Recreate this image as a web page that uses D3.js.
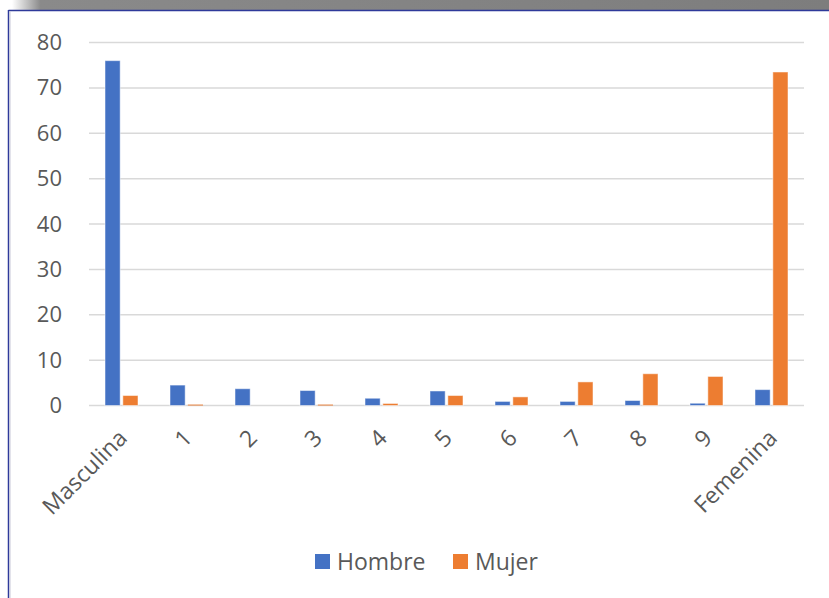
<!DOCTYPE html>
<html>
<head>
<meta charset="utf-8">
<script src="https://cdn.jsdelivr.net/npm/d3@7"></script>
<style>
  body { margin: 0; background: #fff; }
  svg { display: block; }
  text { font-family: "Open Sans", "Noto Sans", sans-serif; fill: #595959; }
</style>
</head>
<body>
<div id="chart"></div>
<script>
const categories = ["Masculina", "1", "2", "3", "4", "5", "6", "7", "8", "9", "Femenina"];
const seriesNames = ["Hombre", "Mujer"];
const hombre = [76, 4.5, 3.7, 3.3, 1.6, 3.2, 0.9, 0.9, 1.1, 0.5, 3.5];
const mujer = [2.2, 0.2, 0, 0.2, 0.45, 2.2, 1.9, 5.2, 7.0, 6.4, 73.5];
const yTicks = [0, 10, 20, 30, 40, 50, 60, 70, 80];
const colors = ["#4472C4", "#ED7D31"];

const width = 829, height = 598;
const margin = {top: 42.5, right: 25, bottom: 192.5, left: 89};

const svg = d3.select("#chart").append("svg")
	.attr("width", width)
	.attr("height", height);

// frame: gray shadow strip and blue border
const defs = svg.append("defs");
const grad = defs.append("linearGradient").attr("id", "shade").attr("x1", 0).attr("x2", 1);
grad.append("stop").attr("offset", 0).attr("stop-color", "#fff");
grad.append("stop").attr("offset", 0.035).attr("stop-color", "#8a8a8a");
grad.append("stop").attr("offset", 1).attr("stop-color", "#7d7d7d");
svg.append("rect").attr("x", 12).attr("y", 0).attr("width", width - 12).attr("height", 10)
	.attr("fill", "url(#shade)");
svg.append("line").attr("x1", 8.5).attr("x2", width).attr("y1", 10.5).attr("y2", 10.5)
	.attr("stroke", "#2e3a9a").attr("stroke-width", 1.5);
svg.append("line").attr("x1", 8.5).attr("x2", 8.5).attr("y1", 10).attr("y2", height)
	.attr("stroke", "#2e3a9a").attr("stroke-width", 1.5);
svg.append("line").attr("x1", 10).attr("x2", 10).attr("y1", 11).attr("y2", height)
	.attr("stroke", "#c8c8d8").attr("stroke-width", 1);

const x0 = d3.scaleBand()
	.domain(categories)
	.range([margin.left, width - margin.right]);

const x1 = d3.scaleBand()
	.domain(seriesNames)
	.range([16, 49])
	.paddingInner(0.15);

const y = d3.scaleLinear()
	.domain([0, 80])
	.range([height - margin.bottom, margin.top]);

// gridlines
svg.append("g").selectAll("line")
	.data(yTicks).enter()
	.append("line")
	.attr("x1", margin.left)
	.attr("x2", width - margin.right)
	.attr("y1", d => y(d))
	.attr("y2", d => y(d))
	.attr("stroke", "#d9d9d9")
	.attr("stroke-width", 1.5);

// y axis labels
const yAxis = svg.append("g")
	.attr("transform", `translate(${margin.left},0)`)
	.call(d3.axisLeft(y).tickValues(yTicks).tickSize(0).tickPadding(27));
yAxis.select(".domain").remove();
yAxis.selectAll("text")
	.style("font-size", "22px")
	.attr("fill", "#595959")
	.style("font-family", "'Open Sans', sans-serif");

// bars
const rows = categories.map((c, i) => ({cat: c, values: [hombre[i], mujer[i]]}));
svg.append("g").selectAll("g")
	.data(rows).enter()
	.append("g")
	.attr("transform", d => `translate(${x0(d.cat)},0)`)
	.selectAll("rect")
	.data(d => d.values.map((v, k) => ({key: seriesNames[k], value: v, k})))
	.enter()
	.append("rect")
	.attr("x", d => x1(d.key))
	.attr("width", x1.bandwidth())
	.attr("y", d => y(d.value))
	.attr("height", d => y(0) - y(d.value))
	.attr("fill", d => colors[d.k])
	.attr("stroke", "#fff")
	.attr("stroke-opacity", 0.5)
	.attr("stroke-width", d => d.value > 0.3 ? 1 : 0);

// x axis labels, rotated
const xAxis = svg.append("g")
	.attr("transform", `translate(0,${y(0)})`)
	.call(d3.axisBottom(x0).tickSize(0).tickPadding(0));
xAxis.select(".domain").remove();
xAxis.selectAll("text")
	.style("font-size", "23px")
	.attr("fill", "#595959")
	.style("font-family", "'Open Sans', sans-serif")
	.attr("text-anchor", "end")
	.attr("dy", null)
	.attr("y", 0)
	.attr("transform", "translate(7,34) rotate(-45)");

// legend
const legend = svg.append("g").attr("transform", "translate(315,554)");
const legendX = [0, 138];
seriesNames.forEach((name, i) => {
	const g = legend.append("g").attr("transform", `translate(${legendX[i]},0)`);
	g.append("rect").attr("width", 15).attr("height", 15).attr("fill", colors[i]);
	g.append("text").attr("x", 22).attr("y", 15.5)
		.style("font-size", "23px")
		.text(name);
});
</script>
</body>
</html>
